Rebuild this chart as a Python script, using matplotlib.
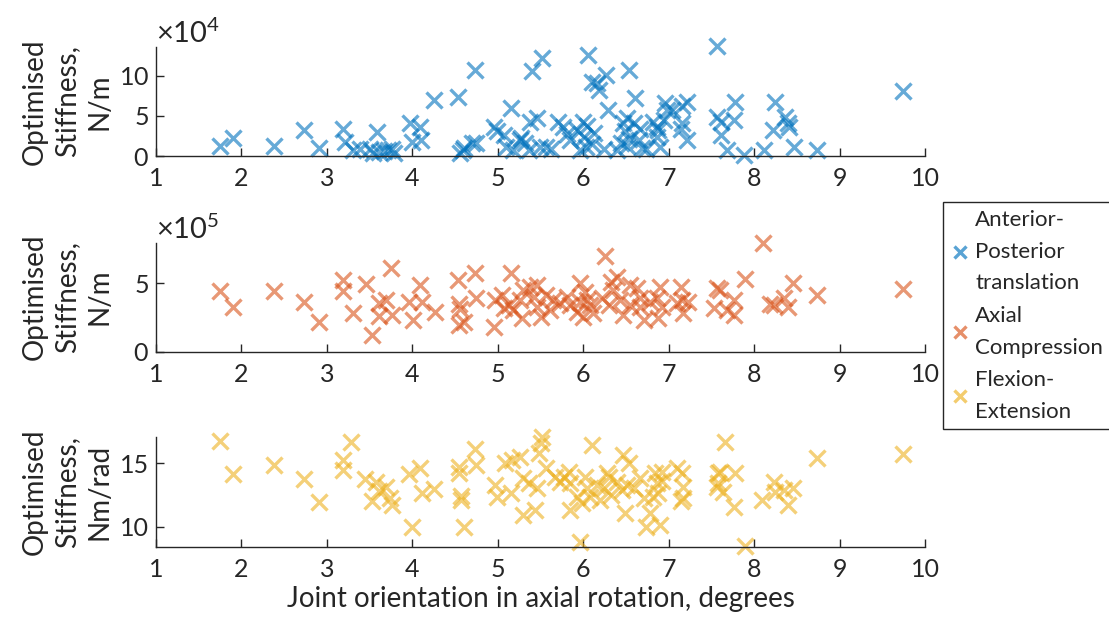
import matplotlib
matplotlib.use("Agg")
import matplotlib.pyplot as plt
from matplotlib.ticker import ScalarFormatter
from matplotlib.lines import Line2D

plt.rcParams['font.family'] = ['Lato', 'DejaVu Sans']
plt.rcParams['mathtext.fontset'] = 'custom'
plt.rcParams['mathtext.rm'] = 'Lato'
plt.rcParams['mathtext.it'] = 'Lato:italic'

# ---------------- data ----------------
# Anterior-Posterior translation (stiffness in units of 1e4 N/m)
ap_x = [1.75, 1.90, 2.38, 2.73, 2.91, 3.19, 3.21, 3.30, 3.39, 3.51, 3.59, 3.54, 3.61, 3.67, 3.71,
        3.76, 3.79, 3.97, 4.00, 4.09, 4.10, 4.25, 4.54, 4.56, 4.59, 4.61, 4.70, 4.73, 4.75,
        4.95, 4.99, 5.07, 5.10, 5.15, 5.18, 5.26, 5.32, 5.36, 5.40, 5.52, 5.38, 5.46, 5.49, 5.57,
        5.70, 5.76, 5.81, 5.85, 5.93, 6.00, 6.01, 5.96, 6.06, 6.10, 6.16, 6.19, 6.27, 6.03, 6.29,
        6.24, 6.39, 6.47, 6.49, 6.44, 6.51, 6.54, 6.61, 6.51, 6.67, 6.65, 6.73, 6.82, 6.86, 6.86,
        6.88, 6.90, 6.96, 6.98, 7.04, 7.16, 7.21, 7.16, 7.14, 7.22, 6.10, 6.13, 5.62, 5.27, 6.59,
        6.95, 6.69, 6.54, 6.05,
        7.56, 7.57, 7.61, 7.61, 7.68, 7.78, 7.77, 7.88, 8.11, 8.24, 8.22, 8.36, 8.40, 8.41, 8.47,
        8.74, 9.74]
ap_y = [1.2, 2.2, 1.2, 3.2, 0.95, 3.4, 1.8, 0.7, 0.9, 0.9, 3.0, 0.4, 0.5, 0.6, 0.8,
        0.9, 0.4, 4.1, 1.8, 3.6, 2.0, 7.0, 7.4, 0.4, 0.7, 1.0, 1.6, 10.7, 1.6,
        3.6, 3.1, 2.6, 1.1, 6.0, 0.7, 2.0, 1.6, 0.8, 10.6, 12.3, 4.3, 4.7, 1.1, 1.1,
        4.3, 3.6, 2.8, 2.0, 3.2, 4.3, 2.4, 0.7, 12.6, 9.3, 9.1, 8.2, 10.1, 1.1, 5.7,
        0.9, 0.7, 4.1, 3.1, 1.6, 1.3, 10.7, 7.2, 4.7, 3.4, 2.0, 0.9, 4.3, 3.6, 2.4,
        3.2, 1.1, 6.6, 5.7, 5.7, 6.3, 6.8, 4.1, 3.4, 2.0, 1.5, 2.9, 0.9, 2.3, 4.1,
        4.5, 1.0, 2.1, 3.7,
        13.7, 4.9, 4.3, 2.6, 0.7, 6.8, 4.5, 0.1, 0.7, 6.8, 3.2, 4.9, 4.1, 3.6, 1.1,
        0.7, 8.1]

# Axial Compression (stiffness in units of 1e5 N/m)
ax_x = [1.75, 1.90, 2.38, 2.73, 2.91, 3.19, 3.19, 3.30, 3.46, 3.53, 3.61, 3.69, 3.61, 3.75, 3.76,
        3.96, 4.01, 4.09, 4.11, 4.26, 4.53, 4.55, 4.56, 4.55, 4.60, 4.73, 4.74, 4.95,
        5.15, 4.97, 5.05, 5.13, 5.18, 5.28, 5.30, 5.38, 5.46, 5.42, 5.50, 5.57, 5.65, 5.73, 5.81,
        5.85, 5.93, 5.96, 6.02, 6.04, 6.08, 6.00, 6.12, 6.26, 6.32, 6.39, 6.35, 6.43, 6.47, 6.55,
        6.63, 6.67, 6.71, 6.78, 6.86, 6.90, 6.92, 6.88, 7.14, 7.16, 7.17, 7.23, 5.07, 5.46, 5.96,
        6.30, 6.22, 6.55, 7.10, 6.67, 5.26, 5.61,
        7.53, 7.57, 7.60, 7.68, 7.76, 7.76, 7.89, 8.10, 8.23, 8.35, 8.40, 8.19, 8.46, 8.74, 9.74]
ax_y = [4.4, 3.25, 4.4, 3.6, 2.15, 5.2, 4.4, 2.85, 4.95, 1.2, 3.55, 3.8, 2.6, 6.1, 2.7,
        3.65, 2.3, 4.9, 3.65, 2.9, 5.25, 3.5, 3.1, 1.95, 2.2, 5.75, 3.9, 1.8,
        5.72, 3.77, 4.14, 3.41, 3.04, 2.44, 4.5, 4.74, 4.87, 4.0, 2.55, 4.14, 3.77, 3.53, 4.0,
        3.41, 2.92, 4.99, 4.38, 3.77, 3.41, 2.55, 2.8, 6.99, 5.11, 5.47, 4.5, 3.77, 2.68, 3.41,
        4.63, 3.9, 2.31, 3.65, 3.9, 4.74, 3.28, 2.44, 4.74, 3.77, 2.8, 3.65, 3.17, 3.28, 3.65,
        3.41, 3.9, 4.87, 3.53, 3.28, 3.77, 3.04,
        3.17, 4.63, 4.5, 3.04, 3.77, 2.68, 5.28, 7.96, 3.41, 3.9, 3.28, 3.5, 4.99, 4.14, 4.55]

# Flexion-Extension (stiffness in Nm/rad)
fe_x = [1.75, 1.90, 2.38, 2.73, 2.91, 3.19, 3.19, 3.28, 3.45, 3.53, 3.58, 3.61, 3.69, 3.74, 3.76,
        3.96, 4.00, 4.09, 4.11, 4.25, 4.55, 4.55, 4.57, 4.57, 4.60, 4.73, 4.74,
        4.97, 4.99, 5.09, 5.17, 5.26, 5.15, 5.30, 5.36, 5.30, 5.44, 5.46, 5.48, 5.52, 5.50, 5.57,
        5.67, 5.77, 5.73, 5.83, 5.93, 5.98, 6.02, 6.04, 6.10, 6.08, 5.96, 6.16, 6.24, 6.28, 6.32,
        6.39, 6.47, 6.49, 6.53, 6.51, 6.59, 6.67, 6.71, 6.73, 6.78, 6.90, 6.84, 6.86, 6.88, 6.92,
        6.92, 6.82, 7.10, 7.16, 7.17, 7.17, 7.14, 5.85, 6.20, 6.30, 5.85, 6.45,
        7.58, 7.58, 7.66, 7.60, 7.78, 7.57, 7.64, 7.76, 7.89, 8.09, 8.23, 8.25, 8.35, 8.40, 8.46,
        8.74, 9.74]
fe_y = [16.8, 14.15, 14.9, 13.75, 11.95, 15.3, 14.5, 16.65, 13.75, 12.0, 13.55, 12.8, 13.15, 12.3, 11.7,
        14.15, 10.0, 14.6, 12.65, 13.0, 14.7, 14.2, 12.4, 12.1, 10.0, 16.1, 14.85,
        13.3, 12.37, 15.0, 15.27, 15.53, 12.64, 13.82, 13.42, 10.92, 11.32, 13.03, 15.79, 17.06, 16.6, 14.6,
        13.95, 13.95, 13.55, 14.34, 12.37, 11.85, 13.95, 13.03, 16.45, 12.37, 8.82, 13.29, 13.03, 14.21, 12.5,
        13.55, 15.66, 11.06, 15.0, 13.29, 13.03, 13.82, 12.24, 10.0, 11.06, 10.13, 14.21, 13.42, 12.64, 14.34,
        13.6, 12.37, 14.6, 14.21, 13.16, 12.24, 12.0, 11.32, 12.1, 13.95, 13.42, 12.9,
        14.21, 13.42, 16.7, 14.34, 14.21, 13.16, 12.76, 11.58, 8.45, 12.1, 13.55, 12.76, 12.9, 11.7, 13.03,
        15.4, 15.74]

series_labels = ["Anterior-\nPosterior\ntranslation", "Axial\nCompression", "Flexion-\nExtension"]
y_labels = ["Optimised\nStiffness,\nN/m", "Optimised\nStiffness,\nN/m", "Optimised\nStiffness,\nNm/rad"]
colors = ["#0072BD", "#D95319", "#EDB120"]
x_ticks = [1, 2, 3, 4, 5, 6, 7, 8, 9, 10]
x_label = "Joint orientation in axial rotation, degrees"

# ---------------- plot ----------------
W, H = 1109, 624
fig = plt.figure(figsize=(W / 100, H / 100), dpi=100)

def frac(l, t, r, b):
    return [l / W, 1 - b / H, (r - l) / W, (b - t) / H]

axes = [fig.add_axes(frac(156, 46.7, 925, 156)),
        fig.add_axes(frac(156, 242.7, 925, 351.7)),
        fig.add_axes(frac(156, 436.7, 925, 546.7))]

xs = [ap_x, ax_x, fe_x]
ys = [[v * 1e4 for v in ap_y], [v * 1e5 for v in ax_y], fe_y]
ylims = [(0, 13.66e4), (0, 7.96e5), (8.42, 17.1)]
yticks = [[0, 5e4, 10e4], [0, 5e5], [10, 15]]
exps = [4, 5, None]

dark = "#262626"
fs_tick = 18
fs_label = 20
fs_leg = 16
for i, ax in enumerate(axes):
    ax.plot(xs[i], ys[i], linestyle='none', marker='x', markersize=11,
            markeredgewidth=2.4, color=colors[i], alpha=0.6, clip_on=False)
    ax.set_xlim(1, 10)
    ax.set_ylim(*ylims[i])
    ax.set_xticks(x_ticks)
    ax.set_yticks(yticks[i])
    for s in ['top', 'right']:
        ax.spines[s].set_visible(False)
    for s in ['left', 'bottom']:
        ax.spines[s].set_color(dark)
        ax.spines[s].set_linewidth(1.0)
    ax.tick_params(direction='in', length=6, width=1.0, colors=dark,
                   labelsize=fs_tick, labelcolor=dark, pad=5)
    ax.tick_params(axis='x', pad=8)
    ax.set_ylabel(y_labels[i], fontsize=fs_label, color=dark, multialignment='center',
                  linespacing=1.3)
    ax.yaxis.set_label_coords((112 - 156) / 769, 0.5)
    if exps[i] is not None:
        fmt = ScalarFormatter(useMathText=True)
        fmt.set_powerlimits((exps[i], exps[i]))
        ax.yaxis.set_major_formatter(fmt)
        ax.yaxis.get_offset_text().set_fontsize(fs_label + 1)
        ax.yaxis.get_offset_text().set_color(dark)

axes[2].set_xlabel(x_label, fontsize=fs_label, color=dark, labelpad=4)

handles = [Line2D([], [], linestyle='none', marker='x', markersize=9,
                  markeredgewidth=2.4, color=c, alpha=0.65) for c in colors]
leg = fig.legend(handles, series_labels, loc='upper left',
                 bbox_to_anchor=(943 / W, 1 - 202 / H), fontsize=fs_leg,
                 frameon=True, fancybox=False, edgecolor=dark, framealpha=1,
                 handlelength=0.8, handletextpad=0.3, borderpad=0.35,
                 labelspacing=0.55, borderaxespad=0)
leg.get_frame().set_linewidth(1.0)
for t in leg.get_texts():
    t.set_color(dark)
    t.set_linespacing(1.74)

fig.savefig("out.png", dpi=100)
